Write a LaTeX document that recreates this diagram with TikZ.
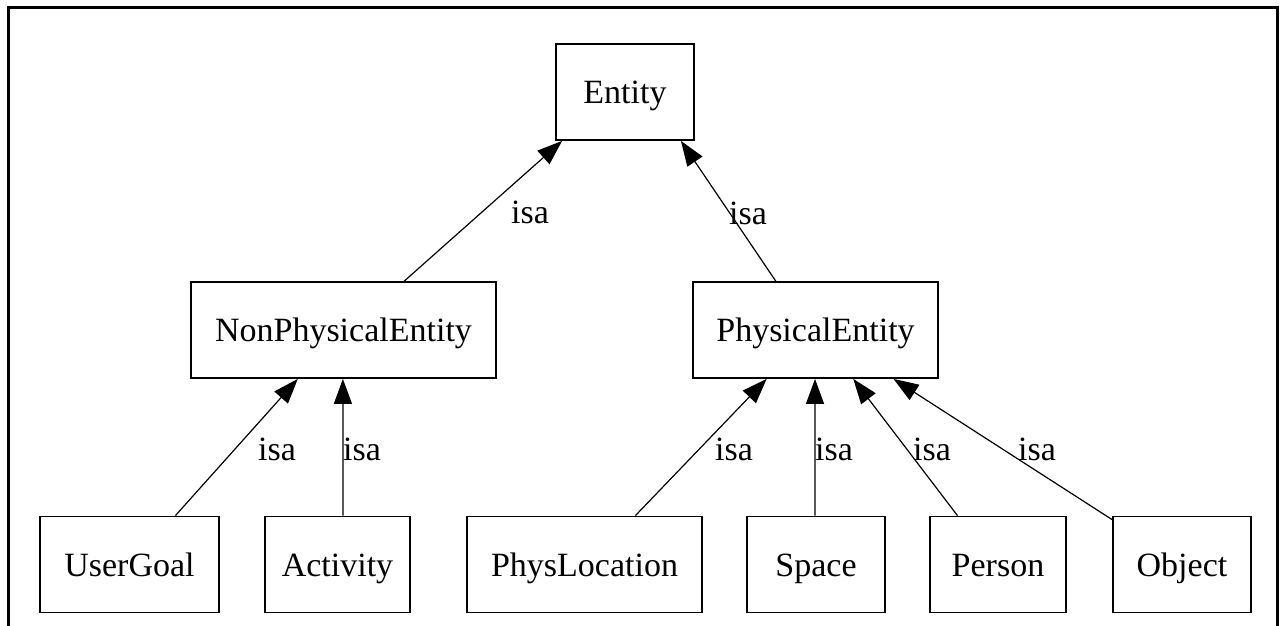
\documentclass[tikz,border=0pt]{standalone}
\usepackage{fontspec}
\setmainfont{Liberation Serif}
\usetikzlibrary{arrows.meta,calc}
\begin{document}
\begin{tikzpicture}[x=1pt,y=-1pt,
  cls/.style={draw=black, line width=1.8pt, minimum height=96pt, inner sep=0pt,
              text height=24pt, text depth=1pt,
              font=\fontsize{34}{40}\selectfont},
  isa/.style={draw=black, line width=1.2pt, -{Triangle[length=25pt,width=18pt]}},
  lbl/.style={inner sep=0pt, font=\fontsize{34}{40}\selectfont}]
\useasboundingbox (0,0) rectangle (1282,626);
% outer frame (open at the bottom)
\draw[line width=3pt, draw=black] (8,626) -- (8,8) -- (1277,8) -- (1277,626);

% classes
\node[cls, minimum width=138pt] (entity) at (625,92)    {Entity};
\node[cls, minimum width=305pt] (npe)    at (343.5,330) {NonPhysicalEntity};
\node[cls, minimum width=245pt] (pe)     at (815.5,330) {PhysicalEntity};
\node[cls, minimum width=179pt] (ug)     at (129.5,564.5) {UserGoal};
\node[cls, minimum width=145pt] (act)    at (337.5,564.5) {Activity};
\node[cls, minimum width=235pt] (ploc)   at (584.5,564.5) {PhysLocation};
\node[cls, minimum width=138pt] (space)  at (816,564.5)   {Space};
\node[cls, minimum width=136pt] (person) at (998,564.5)   {Person};
\node[cls, minimum width=138pt] (object) at (1182,564.5)  {Object};

% isa links
\draw[isa] ($(npe.north west)!.698!(npe.north east)$) -- ($(entity.south west)!.05!(entity.south east)$);
\draw[isa] ($(pe.north west)!.339!(pe.north east)$) -- ($(entity.south west)!.90!(entity.south east)$);
\draw[isa] ($(ug.north west)!.754!(ug.north east)$) -- ($(npe.south west)!.351!(npe.south east)$);
\draw[isa] ($(act.north west)!.538!(act.north east)$) -- ($(npe.south west)!.498!(npe.south east)$);
\draw[isa] ($(ploc.north west)!.715!(ploc.north east)$) -- ($(pe.south west)!.302!(pe.south east)$);
\draw[isa] ($(space.north west)!.493!(space.north east)$) -- ($(pe.south west)!.498!(pe.south east)$);
\draw[isa] ($(person.north west)!.206!(person.north east)$) -- ($(pe.south west)!.653!(pe.south east)$);
\draw[isa] ($(object.north west)+(0,4)$) -- ($(pe.south west)!.816!(pe.south east)$);

% link labels
\node[lbl] (l1) at (530,212) {isa};
\node[lbl] (l2) at (748,213) {isa};
\node[lbl] (l3) at (277,449) {isa};
\node[lbl] (l4) at (362,449) {isa};
\node[lbl] (l5) at (734,449) {isa};
\node[lbl] (l6) at (834,449) {isa};
\node[lbl] (l7) at (932,449) {isa};
\node[lbl] (l8) at (1037,449) {isa};
\end{tikzpicture}
\end{document}
